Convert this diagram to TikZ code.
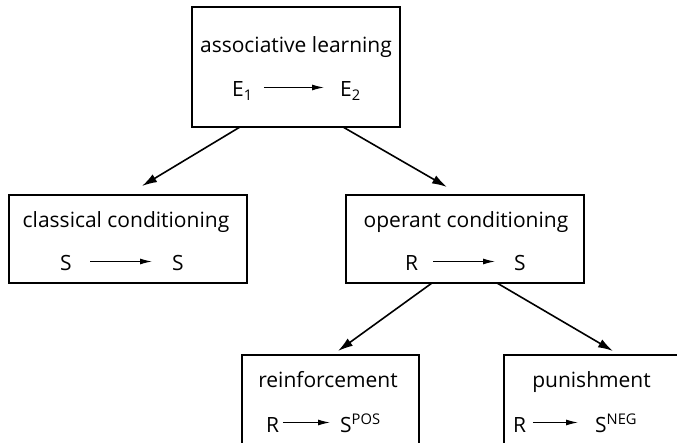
\documentclass[tikz,border=0pt]{standalone}
\usepackage{fontspec}
\setmainfont{Open Sans}
\usetikzlibrary{arrows.meta,calc}
\begin{document}
\begin{tikzpicture}[x=1pt,y=-1pt,
  box/.style={draw, rectangle, line width=1.8pt, inner sep=0pt, outer sep=0pt},
  lbl/.style={anchor=base, inner sep=0pt, font=\fontsize{21}{25}\selectfont},
  sym/.style={anchor=base west, inner sep=0pt, text height=19pt, text depth=0pt, font=\fontsize{21}{25}\selectfont},
  mainarrow/.style={-{Latex[length=15pt,width=9pt]}, line width=1.6pt},
  inarrow/.style={-{Latex[length=12pt,width=6pt]}, line width=1.1pt}]
\useasboundingbox (0,0) rectangle (677,443);
\clip (0,0) rectangle (677,443);
% boxes
\node[box, minimum width=208pt, minimum height=120pt] (top) at (296,67) {};
\node[box, minimum width=238pt, minimum height=88pt] (cc) at (128,239) {};
\node[box, minimum width=238pt, minimum height=88pt] (oc) at (465,239) {};
\node[box, minimum width=177pt, minimum height=130pt] (re) at (330.5,420) {};
\node[box, minimum width=190pt, minimum height=130pt] (pu) at (599,420) {};
% titles
\node[lbl] (toptitle) at (296,53) {associative learning};
\node[lbl] (cctitle) at (126,228) {classical conditioning};
\node[lbl] (octitle) at (466,228) {operant conditioning};
\node[lbl] (retitle) at (328,387) {reinforcement};
\node[lbl] (putitle) at (591.5,387) {punishment};
% symbols
\node[sym] (e1) at (232,97) {E\textsubscript{1}};
\node[sym] (e2) at (340,97) {E\textsubscript{2}};
\node[sym] (cs1) at (60,271) {S};
\node[sym] (cs2) at (172,271) {S};
\node[sym] (or) at (405,271) {R};
\node[sym] (os) at (514,271) {S};
\node[sym] (rr) at (266,432) {R};
\node[sym] (rs) at (340,432) {S\textsuperscript{POS}};
\node[sym] (pr) at (513,432) {R};
\node[sym] (ps) at (595,432) {S\textsuperscript{NEG}};
% inner arrows
\draw[inarrow, shorten <=11pt, shorten >=16pt] (e1.east) -- (e2.west);
\draw[inarrow, shorten <=18.5pt, shorten >=20pt] (cs1.east) -- (cs2.west);
\draw[inarrow, shorten <=15pt, shorten >=19pt] (or.east) -- (os.west);
\draw[inarrow, shorten <=3.5pt, shorten >=10pt] (rr.east) -- (rs.west);
\draw[inarrow, shorten <=6.5pt, shorten >=17pt] (pr.east) -- (ps.west);
% main arrows
\draw[mainarrow] ($(top.south west)+(48,0)$) -- ($(cc.north west)+(133,-9)$);
\draw[mainarrow] ($(top.south west)+(151,0)$) -- ($(oc.north west)+(101,-8)$);
\draw[mainarrow] ($(oc.south west)+(86,0)$) -- ($(re.north west)+(96,-4)$);
\draw[mainarrow] ($(oc.south west)+(151,0)$) -- ($(pu.north west)+(109,-4)$);
\end{tikzpicture}
\end{document}
